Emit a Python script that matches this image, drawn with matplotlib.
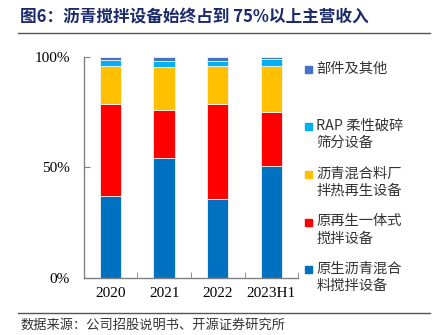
import numpy as np
import matplotlib.pyplot as plt
from matplotlib.patches import Rectangle
from matplotlib.lines import Line2D

plt.rcParams['font.family'] = ['Noto Sans CJK SC', 'DejaVu Sans']

years = ['2020', '2021', '2022', '2023H1']
# 各业务收入占比 (%)，自下而上
native = [37.0, 54.5, 35.8, 50.9]      # 原生沥青混合料搅拌设备
regen = [41.6, 21.6, 43.0, 24.3]       # 原再生一体式搅拌设备
plant = [17.4, 19.5, 17.4, 20.9]       # 沥青混合料厂拌热再生设备
rap = [2.8, 2.9, 2.1, 3.0]             # RAP 柔性破碎筛分设备
other = [1.2, 1.5, 1.7, 0.9]           # 部件及其他

series = [native, regen, plant, rap, other]
labels = ['原生沥青混合\n料搅拌设备', '原再生一体式\n搅拌设备', '沥青混合料厂\n拌热再生设备',
          'RAP 柔性破碎\n筛分设备', '部件及其他']
colors = ['#0070C0', '#FF0000', '#FFC000', '#00B0F0', '#4472C4']

fig = plt.figure(figsize=(4.41, 3.35), dpi=100)
ax = fig.add_axes([0.19, 0.171, 0.486, 0.658])

x = np.arange(len(years))
bottom = np.zeros(len(years))
for vals, c in zip(series, colors):
    ax.bar(x, vals, 0.4, bottom=bottom, color=c, edgecolor='#f4f4f4', linewidth=0.6)
    bottom += np.array(vals)

ax.set_xlim(-0.5, 3.5)
ax.set_ylim(0, 100)
ax.set_yticks([0, 50, 100])
ax.set_yticklabels(['0%', '50%', '100%'], family='Liberation Serif', fontsize=11)
ax.set_xticks(x)
ax.set_xticklabels(years, family='Liberation Serif', fontsize=11)
ax.set_xticks(x + 0.5, minor=True)
ax.tick_params(axis='x', which='major', length=0, pad=7)
ax.tick_params(axis='x', which='minor', direction='in', length=4, color='#808080')
ax.tick_params(axis='y', direction='in', length=4, color='#808080', pad=10)
for s in ['top', 'right']:
    ax.spines[s].set_visible(False)
for s in ['left', 'bottom']:
    ax.spines[s].set_color('#808080')
    ax.spines[s].set_linewidth(1.0)

# 图例
legend_y = [269, 222, 174, 126, 69]
for lab, c, yy in zip(labels, colors, legend_y):
    fy = 1 - yy / 335
    fig.patches.append(Rectangle((305 / 441, fy - 3.5 / 335), 7 / 441, 7 / 335,
                                 transform=fig.transFigure, color=c, figure=fig))
    fig.text(316.5 / 441, fy + 7.5 / 335, lab, fontsize=10.3, color='#333333',
             va='top', ha='left', linespacing=1.3)

fig.text(20 / 441, 1 - 17 / 335, '图6：沥青搅拌设备始终占到 75%以上主营收入', fontsize=12,
         fontweight='bold', color='#1a2a6c', va='center', ha='left')
fig.lines.append(Line2D([18 / 441, 430 / 441], [1 - 33 / 335] * 2, transform=fig.transFigure,
                        color='#555555', linewidth=1.0))
fig.lines.append(Line2D([18 / 441, 430 / 441], [1 - 313 / 335] * 2, transform=fig.transFigure,
                        color='#555555', linewidth=1.0))
fig.text(20 / 441, 1 - 325 / 335, '数据来源：公司招股说明书、开源证券研究所', fontsize=9.5,
         color='#333333', va='center', ha='left')

fig.savefig('out.png', dpi=100)
